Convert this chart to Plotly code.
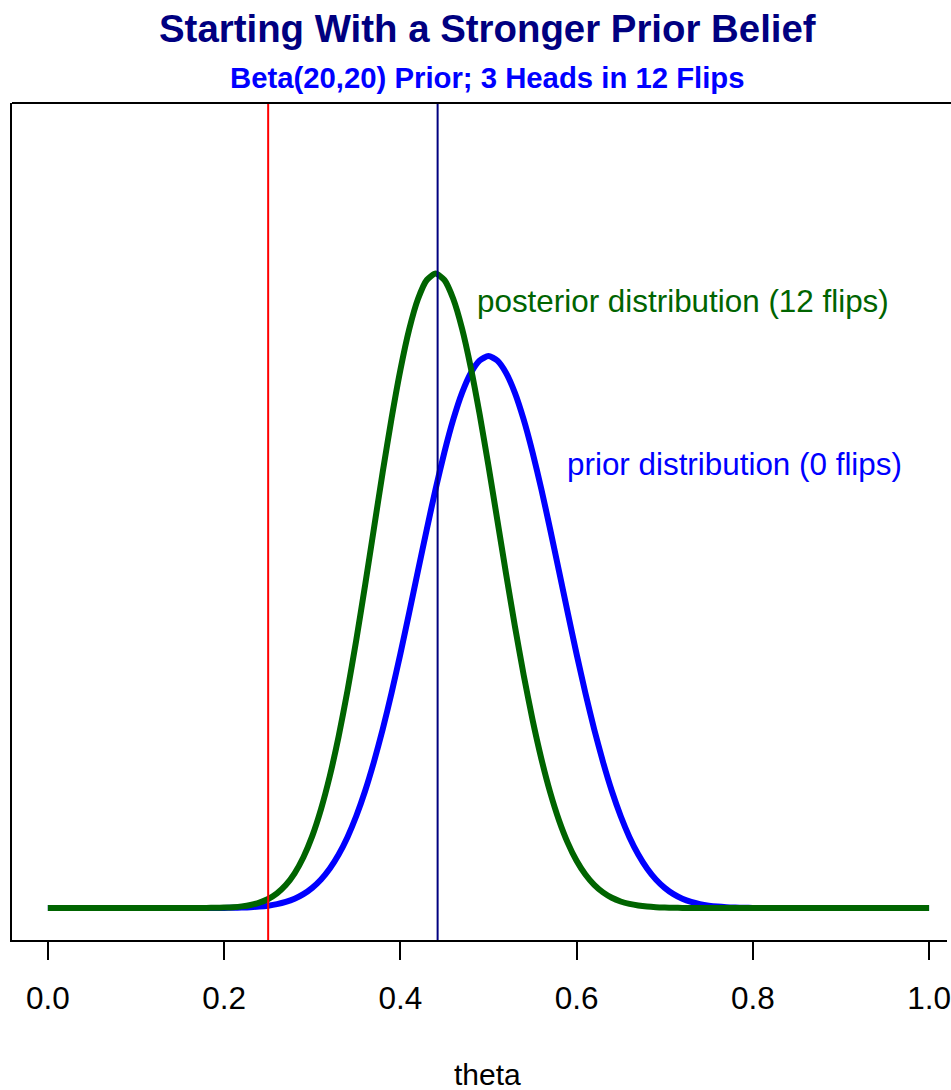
import plotly.graph_objects as go

# theta grid (0.00 .. 1.00 step 0.01)
theta = [round(i * 0.01, 2) for i in range(101)]

# prior density Beta(20,20)
prior = [0] * 18 + [
    0.0002, 0.0005, 0.0010, 0.0021, 0.0039, 0.0072, 0.0126, 0.0212, 0.0346, 0.0548,
    0.0841, 0.1256, 0.183, 0.259, 0.359, 0.486, 0.644, 0.836, 1.063, 1.327,
    1.624, 1.954, 2.309, 2.682, 3.065, 3.443, 3.808, 4.143, 4.439, 4.683,
    4.864, 4.977, 5.018,
    4.977, 4.864, 4.683, 4.439, 4.143, 3.808, 3.443, 3.065, 2.682, 2.309,
    1.954, 1.624, 1.327, 1.063, 0.836, 0.644, 0.486, 0.359, 0.259, 0.183,
    0.1256, 0.0841, 0.0548, 0.0346, 0.0212, 0.0126, 0.0072, 0.0039, 0.0021, 0.0010,
    0.0005, 0.0002] + [0] * 18

# posterior density after 3 heads in 12 flips
posterior = [0] * 18 + [
    0.0007, 0.0017, 0.0037, 0.0076, 0.0147, 0.0273, 0.0482, 0.0817, 0.133, 0.208,
    0.315, 0.461, 0.653, 0.899, 1.201, 1.560, 1.975, 2.437, 2.934, 3.449,
    3.963, 4.450, 4.890, 5.259, 5.536, 5.709, 5.767, 5.709, 5.538, 5.268,
    4.911, 4.488, 4.020, 3.530, 3.037, 2.562, 2.116, 1.712, 1.357, 1.052,
    0.798, 0.592, 0.429, 0.304, 0.210, 0.1415, 0.0929, 0.0594, 0.0369, 0.0223,
    0.0130, 0.0074, 0.0041, 0.0021, 0.0010, 0.0005, 0.0002] + [0] * 26

null_theta = 0.25
post_mean = 0.4423
x_ticks = [0.0, 0.2, 0.4, 0.6, 0.8, 1.0]
x_tick_text = ["0.0", "0.2", "0.4", "0.6", "0.8", "1.0"]

W, H = 951, 1090
L, R, T, B = 12, 0, 103, 150
plot_h = H - T - B

def py(px):
    return (H - B - px) / plot_h

FONT = "Liberation Sans, Arial, sans-serif"

fig = go.Figure()
fig.add_trace(go.Scatter(x=theta, y=prior, mode="lines",
                         line=dict(color="#0000FF", width=6, shape="spline", smoothing=0.6),
                         showlegend=False, hoverinfo="skip"))
fig.add_trace(go.Scatter(x=theta, y=posterior, mode="lines",
                         line=dict(color="#006400", width=6, shape="spline", smoothing=0.6),
                         showlegend=False, hoverinfo="skip"))

fig.add_shape(type="line", xref="x", yref="paper", x0=null_theta, x1=null_theta, y0=0, y1=1,
              line=dict(color="#FF0000", width=2))
fig.add_shape(type="line", xref="x", yref="paper", x0=post_mean, x1=post_mean, y0=0, y1=1,
              line=dict(color="#000080", width=2))
fig.add_shape(type="line", xref="paper", yref="paper", x0=0, x1=1.05, y0=1, y1=1,
              line=dict(color="black", width=2))

fig.add_annotation(text="posterior distribution (12 flips)", x=0.7203, y=py(301),
                   xref="x", yref="paper", showarrow=False, xanchor="center", yanchor="middle",
                   font=dict(family=FONT, size=31.4, color="#006400"))
fig.add_annotation(text="prior distribution (0 flips)", x=0.779, y=py(464),
                   xref="x", yref="paper", showarrow=False, xanchor="center", yanchor="middle",
                   font=dict(family=FONT, size=31.4, color="#0000FF"))
fig.add_annotation(text="<b>Starting With a Stronger Prior Belief</b>", x=0.4994, y=py(29),
                   xref="x", yref="paper", showarrow=False, xanchor="center", yanchor="middle",
                   font=dict(family=FONT, size=38.4, color="#000080"))
fig.add_annotation(text="<b>Beta(20,20) Prior; 3 Heads in 12 Flips</b>", x=0.4994, y=py(77),
                   xref="x", yref="paper", showarrow=False, xanchor="center", yanchor="middle",
                   font=dict(family=FONT, size=29.3, color="#0000FF"))
fig.add_annotation(text="theta", x=0.4994, y=py(1074),
                   xref="x", yref="paper", showarrow=False, xanchor="center", yanchor="middle",
                   font=dict(family=FONT, size=30, color="black"))

fig.update_layout(
    width=W, height=H,
    margin=dict(l=L, r=R, t=T, b=B, pad=0),
    plot_bgcolor="white", paper_bgcolor="white",
    xaxis=dict(range=[-0.04068, 1.02034], tickvals=x_ticks, ticktext=x_tick_text,
               showgrid=False, zeroline=False, showline=True, linecolor="black", linewidth=2,
               ticks="outside", ticklen=18, tickwidth=2, tickcolor="black",
               ticklabelstandoff=11, ticklabeloverflow="allow",
               tickfont=dict(family=FONT, size=31.5, color="black")),
    yaxis=dict(range=[-0.291, 7.318], showticklabels=False, ticks="",
               showgrid=False, zeroline=False, showline=True, linecolor="black", linewidth=2),
)

fig.write_html("out.html")
